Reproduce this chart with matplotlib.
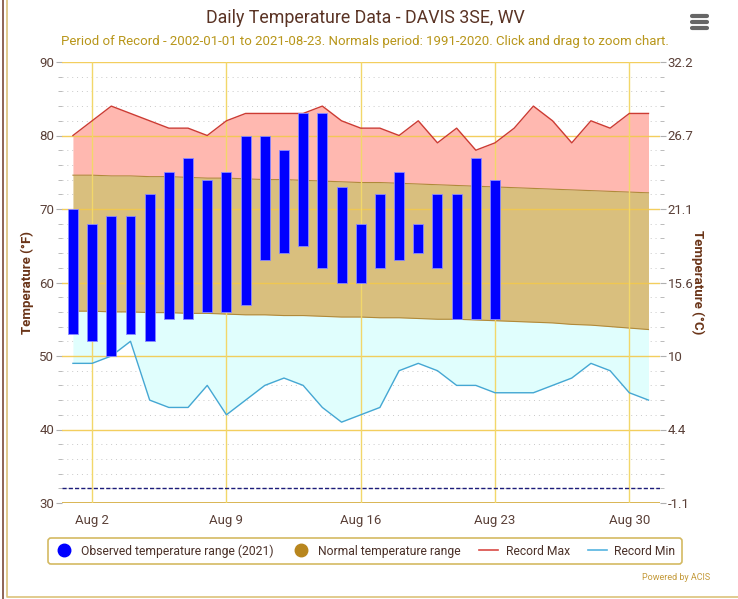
import numpy as np
import matplotlib
matplotlib.use("Agg")
import matplotlib.pyplot as plt
from matplotlib.lines import Line2D
from matplotlib.ticker import MultipleLocator, FixedLocator, FixedFormatter

plt.rcParams['font.family'] = ['Roboto', 'DejaVu Sans']

# August days
days = list(range(1, 32))
obs_days = list(range(1, 24))

# observed 2021 (deg F)
obs_high = [70, 68, 69, 69, 72, 75, 77, 74, 75, 80, 80, 78, 83, 83, 73, 68,
            72, 75, 68, 72, 72, 77, 74]
obs_low = [53, 52, 50, 53, 52, 55, 55, 56, 56, 57, 63, 64, 65, 62, 60, 60,
           62, 63, 64, 62, 55, 55, 55]

# normals 1991-2020
norm_high = [74.6, 74.6, 74.5, 74.5, 74.4, 74.4, 74.3, 74.2, 74.2, 74.1, 74.0,
             74.0, 73.9, 73.8, 73.7, 73.6, 73.6, 73.5, 73.4, 73.3, 73.2, 73.1,
             73.0, 72.9, 72.8, 72.7, 72.6, 72.5, 72.4, 72.3, 72.2]
norm_low = [56.1, 56.1, 56.0, 56.0, 55.9, 55.9, 55.8, 55.8, 55.7, 55.6, 55.6,
            55.5, 55.5, 55.4, 55.3, 55.3, 55.2, 55.2, 55.1, 55.0, 55.0, 54.9,
            54.8, 54.7, 54.6, 54.5, 54.3, 54.2, 54.0, 53.8, 53.6]

# records
rec_max = [80, 82, 84, 83, 82, 81, 81, 80, 82, 83, 83, 83, 83, 84, 82, 81,
           81, 80, 82, 79, 81, 78, 79, 81, 84, 82, 79, 82, 81, 83, 83]
rec_min = [49, 49, 50, 52, 44, 43, 43, 46, 42, 44, 46, 47, 46, 43, 41, 42,
           43, 48, 49, 48, 46, 46, 45, 45, 45, 46, 47, 49, 48, 45, 44]

f_ticks = [30, 40, 50, 60, 70, 80, 90]
x_ticks = [2, 9, 16, 23, 30]
x_labels = ["Aug 2", "Aug 9", "Aug 16", "Aug 23", "Aug 30"]
freeze = 32

W, H = 738, 599
fig = plt.figure(figsize=(W / 100, H / 100), dpi=100)
ax = fig.add_axes([62 / W, 1 - 503 / H, (660 - 62) / W, (503 - 62) / H])

# bands
ax.fill_between(days, norm_high, rec_max, color="#ffb8b0", lw=0, zorder=1)
ax.fill_between(days, norm_low, norm_high, color="#d9bf7e", lw=0, zorder=1)
ax.fill_between(days, rec_min, norm_low, color="#e0fefd", lw=0, zorder=1)
ax.plot(days, norm_high, color="#b08a3a", lw=0.8, zorder=2)
ax.plot(days, norm_low, color="#b08a3a", lw=0.8, zorder=2)
ax.plot(days, rec_max, color="#cc3b33", lw=1.0, zorder=3)
ax.plot(days, rec_min, color="#45a7d3", lw=1.0, zorder=3)

# observed bars
ax.bar(obs_days, np.array(obs_high) - np.array(obs_low), bottom=obs_low,
       width=0.52, color="#0000ff", edgecolor="#8a8aff", lw=0.6, zorder=4)

ax.axhline(freeze, color="#1c1c7a", lw=1.0, ls=(0, (3, 1.5)), zorder=4)

ax.set_xlim(0.43, 31.6)
ax.set_ylim(30, 90)

# grid
for y in f_ticks:
    ax.axhline(y, color="#f2c94c", lw=1.0, alpha=0.9, zorder=2.5)
ax.axhline(30, color="#d6b048", lw=2.0, zorder=2.5)
for y in range(32, 90, 2):
    if y % 10:
        ax.axhline(y, color="#c9c9c9", lw=0.7, ls=(0, (1, 4)), zorder=0.5)
for x in x_ticks:
    ax.axvline(x, color="#f2d76a", lw=1.0, zorder=2.5)

for s in ax.spines.values():
    s.set_visible(False)

tick_col = "#5a4038"
ax.set_xticks(x_ticks)
ax.set_xticklabels(x_labels)
ax.yaxis.set_major_locator(FixedLocator(f_ticks))
ax.yaxis.set_minor_locator(MultipleLocator(2))
ax.tick_params(axis="x", length=0, pad=8, labelsize=9.5, labelcolor=tick_col)
ax.tick_params(axis="y", which="major", length=4, color="#b0b0b0",
               labelsize=9.5, labelcolor=tick_col, pad=1.5)
ax.tick_params(axis="y", which="minor", length=3, color="#b0b0b0")
ax.set_ylabel("Temperature (°F)", fontsize=9.5, fontweight="bold",
              color="#6a3418", labelpad=4)

ax2 = ax.twinx()
ax2.set_ylim(30, 90)
c_labels = []
for f in f_ticks:
    c = (f - 32) * 5 / 9
    s = f"{c:.1f}"
    if s.endswith(".0"):
        s = s[:-2]
    c_labels.append(s)
ax2.yaxis.set_major_locator(FixedLocator(f_ticks))
ax2.yaxis.set_major_formatter(FixedFormatter(c_labels))
ax2.yaxis.set_minor_locator(MultipleLocator(2))
ax2.tick_params(axis="y", which="major", length=4, color="#b0b0b0",
                labelsize=9.5, labelcolor=tick_col, pad=1.5)
ax2.tick_params(axis="y", which="minor", length=3, color="#b0b0b0")
for s in ax2.spines.values():
    s.set_visible(False)
ax2.set_ylabel("Temperature (°C)", fontsize=9.5, fontweight="bold",
               color="#6a3418", rotation=270, labelpad=8)

# titles
fig.text(365 / W, 1 - 18 / H, "Daily Temperature Data - DAVIS 3SE, WV",
         ha="center", va="center", fontsize=12.8, color="#5a3324")
fig.text(365 / W, 1 - 42 / H,
         "Period of Record - 2002-01-01 to 2021-08-23. Normals period: 1991-2020. "
         "Click and drag to zoom chart.",
         ha="center", va="center", fontsize=9.5, color="#b8961a")

# hamburger menu
for yy in (16, 22, 28):
    fig.add_artist(Line2D([692 / W, 707 / W], [1 - yy / H, 1 - yy / H],
                          color="#666666", lw=3, solid_capstyle="round"))

# legend
handles = [
    Line2D([], [], ls="none", marker="o", ms=9, color="#0000ff"),
    Line2D([], [], ls="none", marker="o", ms=9, color="#b8861e"),
    Line2D([], [], color="#d94a45", lw=1.2),
    Line2D([], [], color="#55b4e0", lw=1.2),
]
labels = ["Observed temperature range (2021)", "Normal temperature range",
          "Record Max", "Record Min"]
leg = fig.legend(handles, labels, loc="center", ncol=4,
                 bbox_to_anchor=(365 / W, 1 - 551 / H), fontsize=8.7,
                 frameon=True, fancybox=True, handlelength=1.6,
                 columnspacing=1.5, handletextpad=0.6, borderpad=0.5)
leg.get_frame().set_edgecolor("#c9a83a")
leg.get_frame().set_linewidth(1.2)
for t in leg.get_texts():
    t.set_color("#4a3028")

fig.text(710 / W, 1 - 577 / H, "Powered by ACIS", ha="right", va="center",
         fontsize=6.5, color="#c49a3a")

# outer frame
fig.add_artist(Line2D([2.5 / W, 2.5 / W], [0, 1], color="#7a4a3a", lw=1.2))
fig.add_artist(Line2D([7 / W, 7 / W, 1], [1, 2.5 / H, 2.5 / H],
                      color="#dcc27a", lw=1.2))

fig.savefig("out.png", dpi=100)
